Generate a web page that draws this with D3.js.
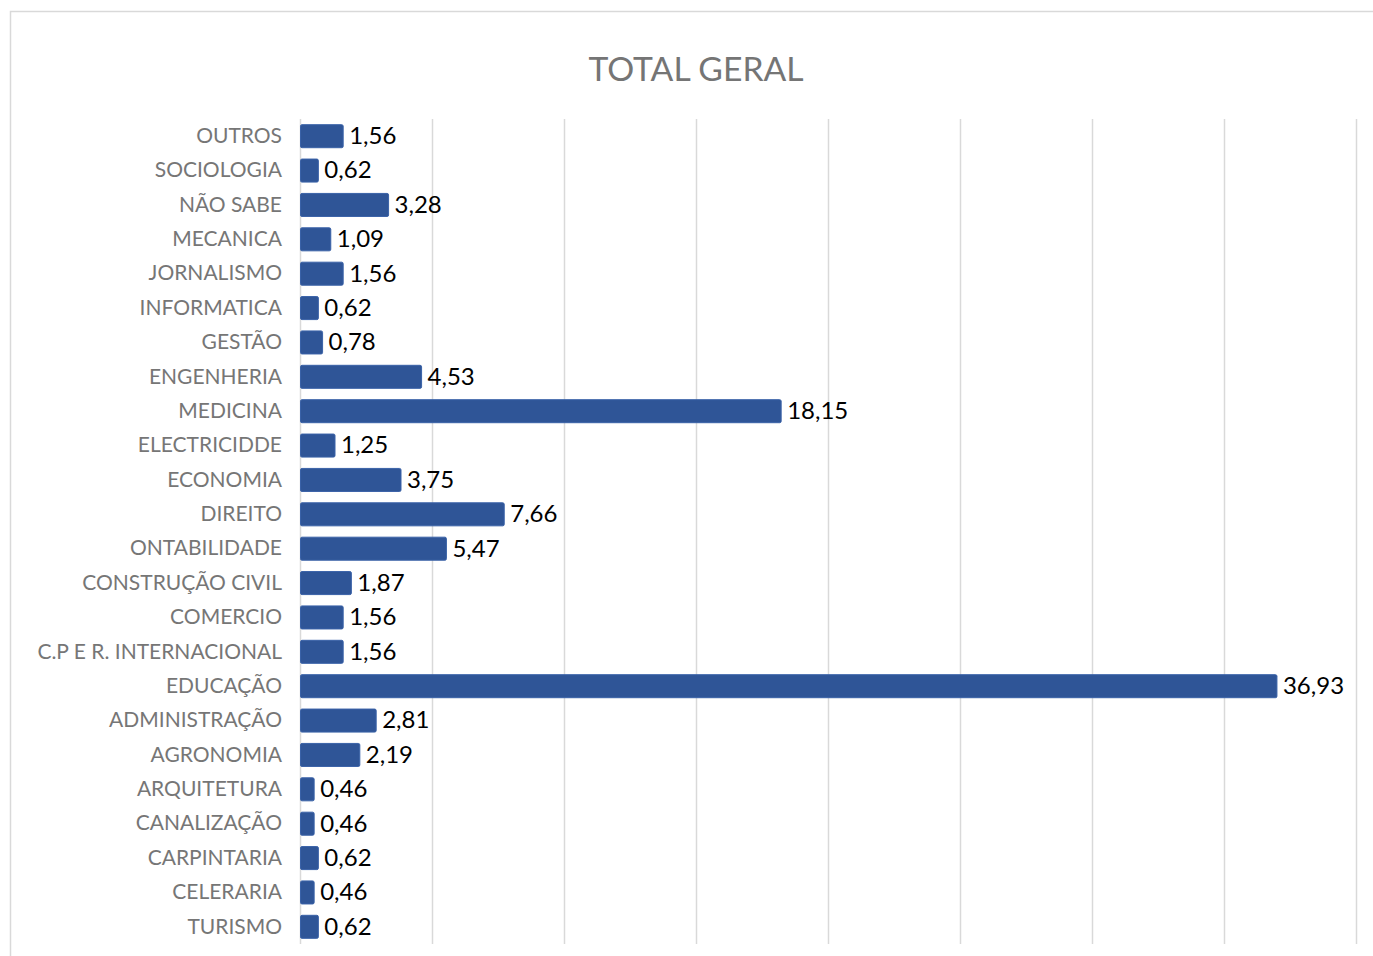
<!DOCTYPE html>
<html>
<head>
<meta charset="utf-8">
<script src="https://cdn.jsdelivr.net/npm/d3@7"></script>
<style>
  body { margin: 0; background: #fff; }
  text { font-family: Lato, "Open Sans", sans-serif; }
</style>
</head>
<body>
<div id="main"></div>
<script>
!(function () {
  'use strict';

  // data
  const categories = [
    'OUTROS', 'SOCIOLOGIA', 'NÃO SABE', 'MECANICA', 'JORNALISMO', 'INFORMATICA',
    'GESTÃO', 'ENGENHERIA', 'MEDICINA', 'ELECTRICIDDE', 'ECONOMIA', 'DIREITO',
    'ONTABILIDADE', 'CONSTRUÇÃO CIVIL', 'COMERCIO', 'C.P E R. INTERNACIONAL',
    'EDUCAÇÃO', 'ADMINISTRAÇÃO', 'AGRONOMIA', 'ARQUITETURA', 'CANALIZAÇÃO',
    'CARPINTARIA', 'CELERARIA', 'TURISMO'
  ];
  const values = [
    1.56, 0.62, 3.28, 1.09, 1.56, 0.62,
    0.78, 4.53, 18.15, 1.25, 3.75, 7.66,
    5.47, 1.87, 1.56, 1.56,
    36.93, 2.81, 2.19, 0.46, 0.46,
    0.62, 0.46, 0.62
  ];
  const xTicks = [0, 5, 10, 15, 20, 25, 30, 35, 40];
  const title = 'TOTAL GERAL';

  // configuration
  const canvas = {
    width: 1373,
    height: 956,
    padding: { top: 119, right: 17, bottom: 12, left: 300 }
  };

  const svg = d3.select('#main')
    .append('svg')
    .attr('width', canvas.width)
    .attr('height', canvas.height);

  // chart frame
  svg.append('rect')
    .attr('x', 10.5)
    .attr('y', 11.5)
    .attr('width', canvas.width + 20)
    .attr('height', canvas.height + 20)
    .attr('fill', 'none')
    .attr('stroke', '#d9d9d9')
    .attr('stroke-width', 1.5);

  svg.append('text')
    .attr('x', 696)
    .attr('y', 81)
    .attr('text-anchor', 'middle')
    .attr('font-size', 33.7)
    .attr('fill', '#757575')
    .text(title);

  const xScale = d3.scaleLinear()
    .domain([0, 40])
    .range([canvas.padding.left, canvas.width - canvas.padding.right]);

  const yScale = d3.scaleBand()
    .domain(categories)
    .range([canvas.padding.top, canvas.height - canvas.padding.bottom])
    .paddingInner(0.33)
    .paddingOuter(0.165);

  const top = canvas.padding.top;
  const bottom = canvas.height - canvas.padding.bottom;

  // gridlines
  svg.append('g')
    .selectAll('line')
    .data(xTicks)
    .join('line')
    .attr('x1', d => Math.round(xScale(d)) + 0.5)
    .attr('x2', d => Math.round(xScale(d)) + 0.5)
    .attr('y1', top)
    .attr('y2', bottom)
    .attr('stroke', '#d9d9d9')
    .attr('stroke-width', 1.5);

  // bars
  svg.append('g')
    .selectAll('rect')
    .data(values)
    .join('rect')
    .attr('x', xScale(0) + 0.5)
    .attr('y', (d, i) => yScale(categories[i]))
    .attr('width', d => xScale(d) - xScale(0) + 1.5)
    .attr('height', yScale.bandwidth())
    .attr('rx', 1.5)
    .attr('fill', '#2f5597')
    .attr('stroke', '#3a62a8')
    .attr('stroke-width', 1);

  // value labels
  svg.append('g')
    .selectAll('text')
    .data(values)
    .join('text')
    .attr('x', d => xScale(d) + 8)
    .attr('y', (d, i) => yScale(categories[i]) + yScale.bandwidth() / 2)
    .attr('dy', '0.33em')
    .attr('font-size', 24)
    .attr('fill', '#000')
    .text(d => d3.format('.2f')(d).replace('.', ','));

  // category axis
  const yAxis = svg.append('g')
    .attr('transform', 'translate(' + canvas.padding.left + ',0)')
    .call(d3.axisLeft(yScale).tickSize(0).tickPadding(18));
  yAxis.select('.domain').remove();
  yAxis.selectAll('text')
    .attr('font-size', 21)
    .attr('fill', '#767676')
    .style('font-family', 'Lato, "Open Sans", sans-serif');
}());
</script>
</body>
</html>
